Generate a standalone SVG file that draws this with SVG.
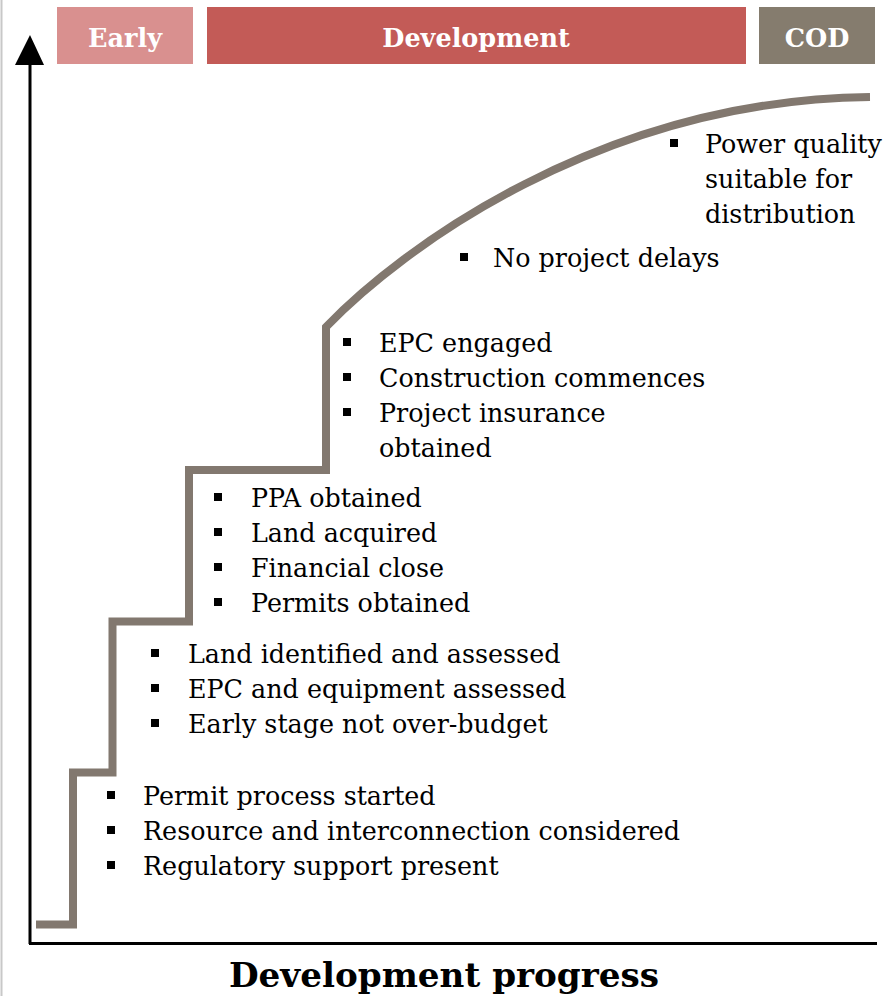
<svg xmlns="http://www.w3.org/2000/svg" width="887" height="996" viewBox="0 0 887 996">
  <style>
    .hdr { font-family: "DejaVu Serif", "Liberation Serif", serif; font-weight: bold; font-size: 25.5px; fill: #ffffff; text-anchor: middle; }
    .lbl { font-family: "DejaVu Serif", "Liberation Serif", serif; font-size: 25.4px; fill: #000000; }
    .title { font-family: "DejaVu Serif", "Liberation Serif", serif; font-weight: bold; font-size: 34.2px; fill: #000000; text-anchor: middle; }
    .bul { fill: #000000; }
    .axis { stroke: #000000; stroke-width: 3; fill: none; }
    .curve { stroke: #82786f; stroke-width: 8; fill: none; stroke-linejoin: miter; stroke-linecap: butt; }
  </style>
  <rect x="0" y="0" width="887" height="996" fill="#ffffff"/>
  <line x1="1.5" y1="0" x2="1.5" y2="996" stroke="#c8c8c8" stroke-width="2"/>

  <g id="stage-early">
    <rect x="57" y="7" width="136" height="57" fill="#d9908f"/>
    <text class="hdr" x="125" y="47">Early</text>
  </g>
  <g id="stage-development">
    <rect x="207" y="7" width="539" height="57" fill="#c35b57"/>
    <text class="hdr" x="476" y="47">Development</text>
  </g>
  <g id="stage-cod">
    <rect x="759" y="7" width="116" height="57" fill="#857c6e"/>
    <text class="hdr" x="817" y="47">COD</text>
  </g>

  <g id="axes">
    <line class="axis" x1="30" y1="64" x2="30" y2="944"/>
    <line class="axis" x1="29" y1="943.5" x2="877" y2="943.5"/>
    <polygon points="30,35 15,65 44,65" fill="#000000"/>
  </g>

  <g id="connectors">
    <path class="curve" d="M36,924.5 H73 V772.5 H112.5 V621.5 H189 V470 H326 V327 C400,250 600,100 870,97"/>
  </g>

  <g id="milestone-1">
    <rect class="bul" x="107" y="791" width="8" height="8"/>
    <rect class="bul" x="107" y="826" width="8" height="8"/>
    <rect class="bul" x="107" y="861" width="8" height="8"/>
    <text class="lbl" x="143" y="805">Permit process started</text>
    <text class="lbl" x="143" y="840">Resource and interconnection considered</text>
    <text class="lbl" x="143" y="875">Regulatory support present</text>
  </g>

  <g id="milestone-2">
    <rect class="bul" x="151" y="649" width="8" height="8"/>
    <rect class="bul" x="151" y="684" width="8" height="8"/>
    <rect class="bul" x="151" y="719" width="8" height="8"/>
    <text class="lbl" x="188" y="663">Land identified and assessed</text>
    <text class="lbl" x="188" y="698">EPC and equipment assessed</text>
    <text class="lbl" x="188" y="733">Early stage not over-budget</text>
  </g>

  <g id="milestone-3">
    <rect class="bul" x="214" y="493" width="8" height="8"/>
    <rect class="bul" x="214" y="528" width="8" height="8"/>
    <rect class="bul" x="214" y="563" width="8" height="8"/>
    <rect class="bul" x="214" y="598" width="8" height="8"/>
    <text class="lbl" x="251" y="507">PPA obtained</text>
    <text class="lbl" x="251" y="542">Land acquired</text>
    <text class="lbl" x="251" y="577">Financial close</text>
    <text class="lbl" x="251" y="612">Permits obtained</text>
  </g>

  <g id="milestone-4">
    <rect class="bul" x="343" y="338" width="8" height="8"/>
    <rect class="bul" x="343" y="373" width="8" height="8"/>
    <rect class="bul" x="343" y="408" width="8" height="8"/>
    <text class="lbl" x="379" y="352">EPC engaged</text>
    <text class="lbl" x="379" y="387">Construction commences</text>
    <text class="lbl" x="379" y="422">Project insurance</text>
    <text class="lbl" x="379" y="457">obtained</text>
  </g>

  <g id="milestone-5">
    <rect class="bul" x="460" y="253" width="8" height="8"/>
    <text class="lbl" x="493" y="267">No project delays</text>
  </g>

  <g id="milestone-6">
    <rect class="bul" x="670" y="139" width="8" height="8"/>
    <text class="lbl" x="705" y="153">Power quality</text>
    <text class="lbl" x="705" y="188">suitable for</text>
    <text class="lbl" x="705" y="223">distribution</text>
  </g>

  <g id="x-axis-title">
    <text class="title" x="444" y="987">Development progress</text>
  </g>
</svg>
